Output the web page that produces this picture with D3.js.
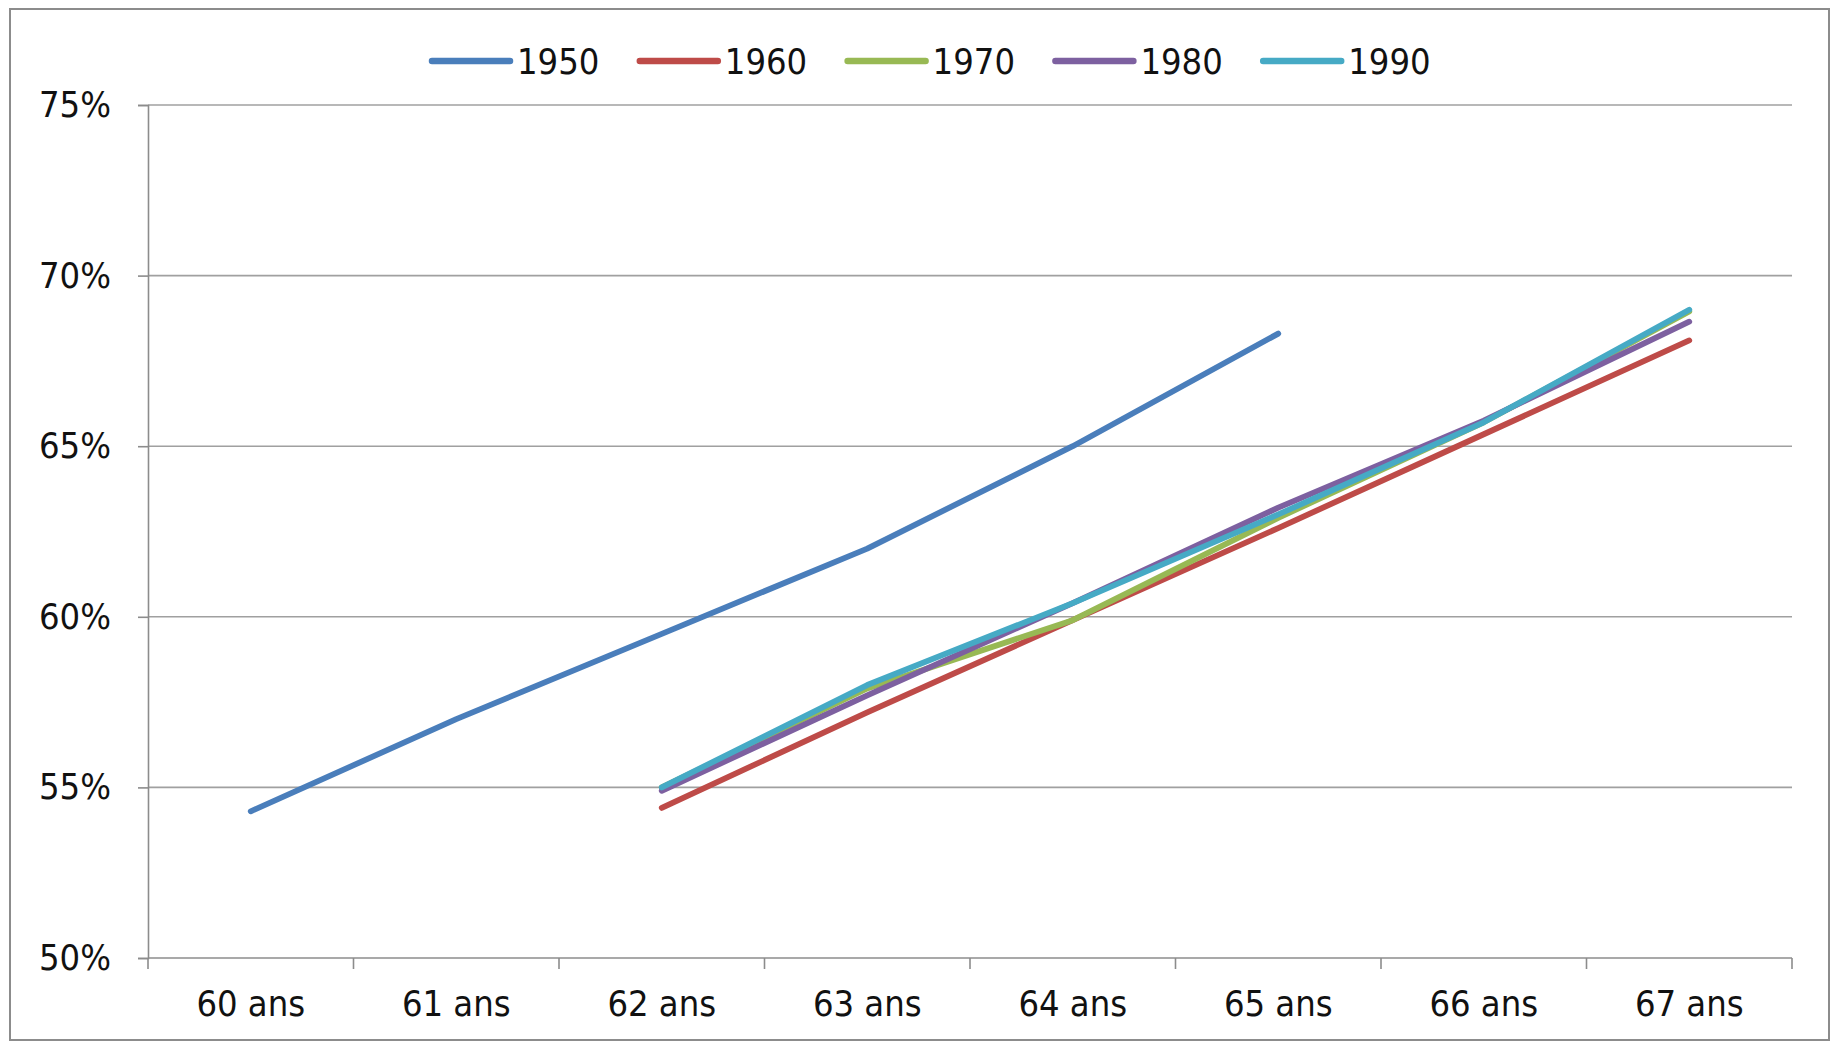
<!DOCTYPE html>
<html>
<head>
<meta charset="utf-8">
<script src="https://cdn.jsdelivr.net/npm/d3@7"></script>
<style>
  html, body { margin: 0; padding: 0; background: #fff; }
  svg { display: block; }
  text { font-family: "Liberation Sans Narrow", "DejaVu Sans Condensed", "Roboto Condensed", "Open Sans", sans-serif; fill: #111; }
</style>
</head>
<body>
<svg id="chart" width="1832" height="1044"></svg>
<script>
const categories = ["60 ans", "61 ans", "62 ans", "63 ans", "64 ans", "65 ans", "66 ans", "67 ans"];
const seriesNames = ["1950", "1960", "1970", "1980", "1990"];
const s1950 = [54.3, 57.0, 59.5, 62.0, 65.0, 68.3, null, null];
const s1960 = [null, null, 54.4, 57.2, 59.9, 62.6, 65.35, 68.1];
const s1970 = [null, null, 55.0, 57.9, 59.9, 62.9, 65.7, 68.95];
const s1980 = [null, null, 54.9, 57.7, 60.4, 63.2, 65.75, 68.65];
const s1990 = [null, null, 55.0, 58.0, 60.4, 63.0, 65.7, 69.0];
const yTicks = [50, 55, 60, 65, 70, 75];
const colors = ["#4A7EBB", "#BE4B48", "#98B954", "#7D60A0", "#46AAC5"];

const seriesValues = [s1950, s1960, s1970, s1980, s1990];
const series = seriesNames.map((name, i) => ({
  name, color: colors[i],
  values: seriesValues[i].map((v, j) => ({ cat: categories[j], v }))
}));

const svg = d3.select("#chart");
const plot = { left: 148, right: 1792, top: 105, bottom: 958 };

// outer border
svg.append("rect").attr("x", 10).attr("y", 9).attr("width", 1819).attr("height", 1031)
  .attr("fill", "#fff").attr("stroke", "#8c8c8c").attr("stroke-width", 2);

const x = d3.scaleBand().domain(categories).range([plot.left, plot.right]).padding(0);
const y = d3.scaleLinear().domain([50, 75]).range([plot.bottom, plot.top]);
const cx = c => x(c) + x.bandwidth() / 2;

// gridlines
svg.append("g").selectAll("line").data(yTicks.filter(t => t !== 50)).join("line")
  .attr("x1", plot.left).attr("x2", plot.right)
  .attr("y1", d => y(d)).attr("y2", d => y(d))
  .attr("stroke", "#a0a0a0").attr("stroke-width", 1.6);

// y axis
const yAxis = svg.append("g").attr("transform", `translate(${plot.left},0)`)
  .call(d3.axisLeft(y).tickValues(yTicks).tickFormat(d => d + "%").tickSize(10).tickPadding(27));
yAxis.select(".domain").attr("stroke", "#8c8c8c").attr("stroke-width", 1.6);
yAxis.selectAll(".tick line").attr("stroke", "#8c8c8c").attr("stroke-width", 1.6);
yAxis.selectAll(".tick text").attr("font-size", 36).style("font-family", null).attr("fill", "#111");

// x axis
const xAxisG = svg.append("g");
xAxisG.append("line").attr("x1", plot.left).attr("x2", plot.right)
  .attr("y1", plot.bottom).attr("y2", plot.bottom)
  .attr("stroke", "#8c8c8c").attr("stroke-width", 1.6);
const edges = categories.map(c => x(c)).concat([x(categories[categories.length - 1]) + x.bandwidth()]);
xAxisG.selectAll("line.tk").data(edges).join("line").attr("class", "tk")
  .attr("x1", d => d).attr("x2", d => d)
  .attr("y1", plot.bottom).attr("y2", plot.bottom + 11)
  .attr("stroke", "#8c8c8c").attr("stroke-width", 1.6);
xAxisG.selectAll("text").data(categories).join("text")
  .attr("x", d => cx(d)).attr("y", 1003).attr("dy", "0.35em")
  .attr("text-anchor", "middle").attr("font-size", 36).text(d => d);

// lines
const line = d3.line().defined(d => d.v !== null).x(d => cx(d.cat)).y(d => y(d.v));
svg.append("g").selectAll("path").data(series).join("path")
  .attr("d", d => line(d.values))
  .attr("fill", "none").attr("stroke", d => d.color)
  .attr("stroke-width", 5.8).attr("stroke-linecap", "round").attr("stroke-linejoin", "round");

// legend
const legend = svg.append("g");
const legStart = 432, legStep = 207.8, legY = 61;
const items = legend.selectAll("g").data(series).join("g")
  .attr("transform", (d, i) => `translate(${legStart + i * legStep},${legY})`);
items.append("line").attr("x1", 0).attr("x2", 78).attr("y1", 0).attr("y2", 0)
  .attr("stroke", d => d.color).attr("stroke-width", 6.5).attr("stroke-linecap", "round");
items.append("text").attr("x", 85).attr("y", 0).attr("dy", "0.35em")
  .attr("font-size", 36).text(d => d.name);
</script>
</body>
</html>
